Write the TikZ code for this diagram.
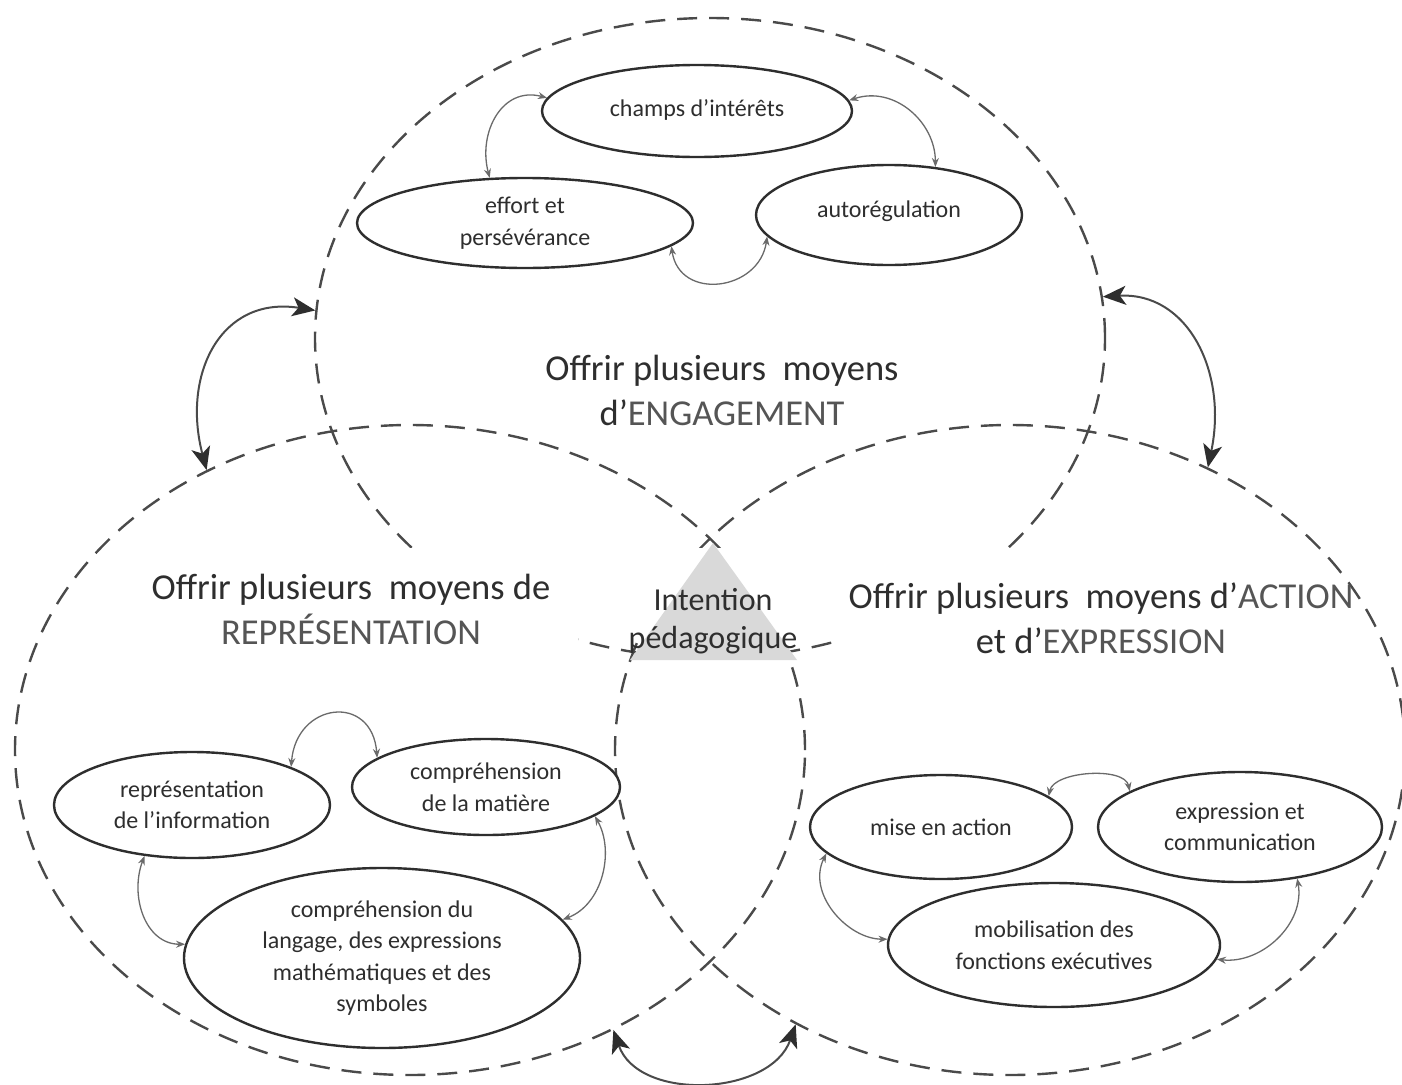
\documentclass[tikz,border=0pt]{standalone}
\usepackage{fontspec}
\setmainfont{Carlito}
\usetikzlibrary{shapes.geometric,arrows.meta}
\definecolor{ink}{HTML}{2E2E2E}
\definecolor{capgray}{HTML}{555555}
\definecolor{rim}{HTML}{4A4A4A}
\definecolor{thinline}{HTML}{6A6A6A}
\definecolor{trifill}{HTML}{D9D9D9}

\begin{document}
\begin{tikzpicture}[x=1pt,y=-1pt,
  bigcircle/.style={ellipse, draw=rim, line width=2.4pt, dash pattern=on 20pt off 12pt, inner sep=0pt},
  topic/.style={ellipse, draw=ink, line width=2.4pt, fill=white, inner xsep=-30pt, inner ysep=-15pt,
                align=center, text=ink, font=\fontsize{24}{31.5}\selectfont},
  title/.style={align=center, text=ink, font=\fontsize{36.5}{45}\selectfont, inner sep=0pt},
  link/.style={draw=thinline, line width=1.3pt,
               {Stealth[length=9pt,width=7pt]}-{Stealth[length=9pt,width=7pt]}},
  bridge/.style={draw=rim, line width=2pt,
               {Stealth[length=23pt,width=19pt,inset=6pt,color=ink]}-{Stealth[length=23pt,width=19pt,inset=6pt,color=ink]}}
]
\useasboundingbox (0,0) rectangle (1402,1084);
\fill[white] (0,0) rectangle (1402,1084);

% the three overlapping dashed domains
\node[bigcircle, minimum width=790pt, minimum height=640pt] (eng) at (710,338) {};
\node[bigcircle, minimum width=790pt, minimum height=650pt] (rep) at (410,750) {};
\node[bigcircle, minimum width=790pt, minimum height=650pt] (act) at (1010,750) {};

% blank areas behind the titles and around the triangle
\fill[white] (145,548) rectangle (578,660);
\fill[white] (835,548) rectangle (1310,662);
\fill[white] (600,548) rectangle (830,640);

% central triangle
\fill[trifill] (713,543) -- (797,660) -- (630,660) -- cycle;

% titles
\node[title] (engt) at (722,390) {Offrir plusieurs~ moyens\\d’\textcolor{capgray}{ENGAGEMENT}};
\node[title] (rept) at (351,609) {Offrir plusieurs~ moyens de\\\textcolor{capgray}{REPRÉSENTATION}};
\node[title] (actt) at (1101,618) {Offrir plusieurs~ moyens d’\textcolor{capgray}{ACTION}\\et d’\textcolor{capgray}{EXPRESSION}};
\node[title, font=\fontsize{32}{38}\selectfont] (intent) at (713,621) {Intention\\pédagogique};

% engagement
\node[topic, minimum width=310pt, minimum height=92pt] (champs) at (697,111) {\raisebox{5pt}{champs d’intérêts}};
\node[topic, minimum width=336pt, minimum height=90pt] (effort) at (525,223) {effort et\\persévérance};
\node[topic, minimum width=266pt, minimum height=100pt] (autoreg) at (889,215) {\raisebox{11pt}{autorégulation}};

% representation
\node[topic, minimum width=276pt, minimum height=106pt] (repinfo) at (192,805) {représentation\\de l’information};
\node[topic, minimum width=268pt, minimum height=96pt] (compmat) at (486,787) {compréhension\\de la matière};
\node[topic, minimum width=396pt, minimum height=180pt] (lang) at (382,958) {compréhension du\\langage, des expressions\\mathématiques et des\\symboles};

% action and expression
\node[topic, minimum width=262pt, minimum height=104pt] (mise) at (941,827) {mise en action};
\node[topic, minimum width=284pt, minimum height=110pt] (expr) at (1240,827) {expression et\\communication};
\node[topic, minimum width=332pt, minimum height=124pt] (mob) at (1054,945) {mobilisation des\\fonctions exécutives};

% links inside each domain
\draw[link] (champs.175) .. controls +(-45,-12) and +(-12,-45) .. (effort.128);
\draw[link] (champs.4) .. controls +(45,-15) and +(0,-45) .. (autoreg.46);
\draw[link] (effort.-9) .. controls +(8,55) and +(-8,55) .. (autoreg.190);

\draw[link] (repinfo.21) .. controls +(5,-65) and +(-5,-65) .. (compmat.165);
\draw[link] (repinfo.227) .. controls +(-15,40) and +(-40,0) .. (lang.176);
\draw[link] (compmat.-15) .. controls +(20,35) and +(40,-15) .. (lang.12);

\draw[link] (mise.16) .. controls +(5,-25) and +(-5,-25) .. (expr.162);
\draw[link] (mise.193) .. controls +(-20,40) and +(-40,0) .. (mob.178);
\draw[link] (expr.-42) .. controls +(8,45) and +(45,5) .. (mob.-5);

% links between the domains
\draw[bridge] (eng.176) .. controls +(-95,-15) and +(-25,-95) .. (rep.126);
\draw[bridge] (eng.6) .. controls +(85,-5) and +(20,-95) .. (act.55);
\draw[bridge] (rep.-54) .. controls +(25,72) and +(-25,72) .. (act.232);
\end{tikzpicture}
\end{document}
